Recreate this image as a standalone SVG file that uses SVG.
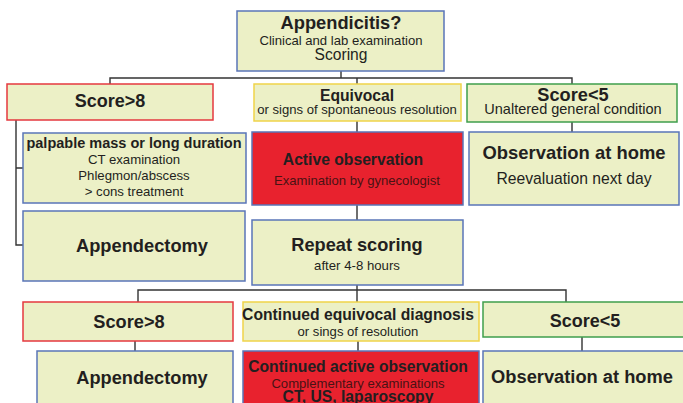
<svg xmlns="http://www.w3.org/2000/svg" width="683" height="403" viewBox="0 0 683 403">
<style>
rect{stroke-width:1.5}
.n{fill:#ecf0c6}
.r{fill:#e8222e}
.bb{stroke:#5a75b8}
.br{stroke:#e5393f}
.by{stroke:#f0d44a}
.bg{stroke:#3f9e4c}
text{font-family:"Liberation Sans",Arial,sans-serif;fill:#231f20;text-anchor:middle}
.b{font-weight:bold}
.dr{fill:#4a1214}
.c path{fill:none;stroke:#333;stroke-width:1.4}
</style>
<rect width="683" height="403" fill="#fff"/>
<g class="c">
<path d="M341 71V78M110 84V78H572V84M357 78V84M357 121V132M572 122V132M16 120V245H23M16 168H23M357 205V220M357 285V302M138 302V290H566V302M135 341V351M358 341V351M582 337V351"/>
</g>
<g id="n1"><rect class="n bb" x="237" y="11" width="207" height="60"/>
<text class="b" x="341" y="29" font-size="18.3">Appendicitis?</text>
<text x="341" y="45" font-size="13.1">Clinical and lab examination</text>
<text x="341" y="60" font-size="15.6">Scoring</text></g>
<g id="n2"><rect class="n br" x="7" y="84" width="206" height="36"/>
<text class="b" x="110" y="107" font-size="18">Score&gt;8</text></g>
<g id="n3"><rect class="n by" x="254" y="84" width="207" height="37"/>
<text class="b" x="357" y="101" font-size="15.7">Equivocal</text>
<text x="357" y="114" font-size="13.1">or signs of spontaneous resolution</text></g>
<g id="n4"><rect class="n bg" x="467" y="84" width="210" height="38"/>
<text class="b" x="573" y="101" font-size="18.2">Score&lt;5</text>
<text x="573" y="114" font-size="14.5">Unaltered general condition</text></g>
<g id="n5"><rect class="n bb" x="23" y="133" width="223" height="70"/>
<text class="b" x="134" y="148" font-size="14.5">palpable mass or long duration</text>
<text x="134" y="164" font-size="13.2">CT examination</text>
<text x="134" y="180" font-size="13.2">Phlegmon/abscess</text>
<text x="134" y="196" font-size="13.2">&gt; cons treatment</text></g>
<g id="n6"><rect class="r bb" x="252" y="132" width="211" height="73"/>
<text class="b" x="353" y="165" font-size="15.7">Active observation</text>
<text class="dr" x="357" y="185" font-size="13.1">Examination by gynecologist</text></g>
<g id="n7"><rect class="n bb" x="469" y="132" width="210" height="73"/>
<text class="b" x="574" y="159" font-size="18.4">Observation at home</text>
<text x="574" y="184" font-size="15.7">Reevaluation next day</text></g>
<g id="n8"><rect class="n bb" x="23" y="211" width="222" height="70"/>
<text class="b" x="142" y="252" font-size="18.3">Appendectomy</text></g>
<g id="n9"><rect class="n bb" x="252" y="220" width="211" height="65"/>
<text class="b" x="357" y="251" font-size="18.2">Repeat scoring</text>
<text x="357" y="270" font-size="13.2">after 4-8 hours</text></g>
<g id="n10"><rect class="n br" x="23" y="302" width="210" height="39"/>
<text class="b" x="129" y="328" font-size="18.2">Score&gt;8</text></g>
<g id="n11"><rect class="n by" x="243" y="302" width="236" height="39"/>
<text class="b" x="358" y="320" font-size="15.7">Continued equivocal diagnosis</text>
<text x="358" y="336" font-size="13.1">or sings of resolution</text></g>
<g id="n12"><rect class="n bg" x="483" y="302" width="210" height="35"/>
<text class="b" x="585" y="327" font-size="18">Score&lt;5</text></g>
<g id="n13"><rect class="n bb" x="37" y="351" width="196" height="60"/>
<text class="b" x="142" y="384" font-size="18.2">Appendectomy</text></g>
<g id="n14"><rect class="r bb" x="243" y="351" width="236" height="60"/>
<text class="b" x="358" y="372" font-size="15.7">Continued active observation</text>
<text class="dr" x="358" y="388" font-size="13.1">Complementary examinations</text>
<text class="b" x="358" y="402" font-size="15.7">CT, US, laparoscopy</text></g>
<g id="n15"><rect class="n bb" x="483" y="351" width="210" height="60"/>
<text class="b" x="582" y="383" font-size="18.3">Observation at home</text></g>
</svg>
